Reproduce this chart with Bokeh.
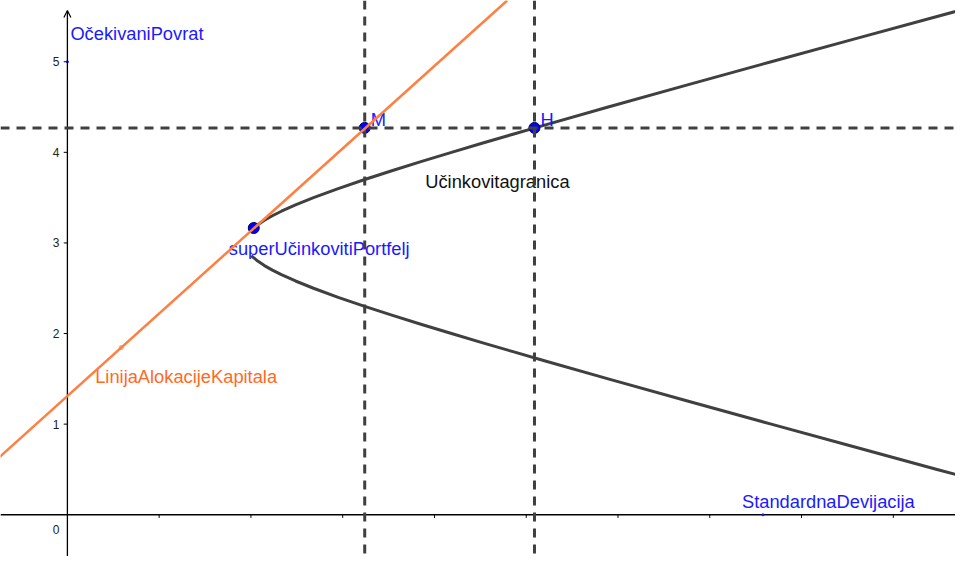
from bokeh.plotting import figure
from bokeh.models import Range1d, Span, Slope, Arrow, OpenHead
from bokeh.core.properties import value
from bokeh.embed import file_html
from bokeh.resources import INLINE

# ---------------- data ----------------
# Efficient frontier (hyperbola), upper branch: (std dev, expected return)
upper_sigma = [2.031, 2.074, 2.147, 2.234, 2.332, 2.486, 2.682, 2.951, 3.240, 3.544,
               3.861, 4.186, 4.518, 4.856, 5.095, 5.893, 6.777, 7.670, 8.571, 9.477, 9.841]
upper_mu    = [3.165, 3.20, 3.25, 3.30, 3.35, 3.42, 3.50, 3.60, 3.70, 3.80,
               3.90, 4.00, 4.10, 4.20, 4.27, 4.50, 4.75, 5.00, 5.25, 5.50, 5.60]
# lower branch
lower_sigma = [2.005, 2.015, 2.074, 2.147, 2.234, 2.332, 2.486, 2.682, 2.951, 3.240, 3.544,
               3.861, 4.186, 4.518, 4.856, 5.198, 5.893, 6.777, 7.670, 8.571, 9.477, 9.841]
lower_mu    = [2.86, 2.85, 2.80, 2.75, 2.70, 2.65, 2.58, 2.50, 2.40, 2.30, 2.20,
               2.10, 2.00, 1.90, 1.80, 1.70, 1.50, 1.25, 1.00, 0.75, 0.50, 0.40]

# Capital allocation line: intercept (risk-free rate) and slope
cal_intercept = 1.31
cal_slope = 0.911

# Named points
point_names = ["M", "H", "superUčinkovitiPortfelj"]
point_x = [3.24, 5.09, 2.031]
point_y = [4.27, 4.27, 3.165]

# Small helper points carrying labels
cal_label_point = (0.586, 1.845)
y_axis_point = (0.0, 5.0)
x_axis_point = (7.58, 0.0)
frontier_label_pos = (3.90, 3.68)

# Axis ticks
y_tick_values = [0, 1, 2, 3, 4, 5]
y_tick_labels = ["0", "1", "2", "3", "4", "5"]
x_tick_values = [1, 2, 3, 4, 5, 6, 7, 8, 9]

# ---------------- figure ----------------
FONT = value("Liberation Sans")
FS = "18.3px"
BLUE = "#1a1aff"
ORANGE = "#ff7f40"
ORANGE_TXT = "#ff6a1f"
DARK = "#404040"

X0, X1 = -0.729, 9.678
Y0, Y1 = -0.461, 5.676

p = figure(width=955, height=556, output_backend="svg", toolbar_location=None,
           x_range=Range1d(X0, X1), y_range=Range1d(Y0, Y1), min_border=0)
p.axis.visible = False
p.grid.visible = False
p.outline_line_color = None
p.background_fill_color = "white"

# axes
p.segment(x0=[X0], y0=[0], x1=[X1], y1=[0], line_color="black", line_width=1.3)
p.add_layout(Arrow(end=OpenHead(size=7, line_width=1.2, line_color="black"),
                   x_start=0, y_start=Y0, x_end=0, y_end=5.565,
                   line_color="black", line_width=1.3))
# y ticks
p.segment(x0=[0] * 5, y0=y_tick_values[1:], x1=[-0.04] * 5, y1=y_tick_values[1:],
          line_color="black", line_width=1)
# x ticks
p.segment(x0=x_tick_values, y0=[0] * len(x_tick_values), x1=x_tick_values,
          y1=[-0.035] * len(x_tick_values), line_color="black", line_width=1)
# y tick labels
p.text(x=[0] * 5, y=y_tick_values[1:], text=y_tick_labels[1:], text_font=FONT,
       text_font_size="12px", text_color="#222222", text_align="right",
       text_baseline="middle", x_offset=-8)
p.text(x=[0], y=[0], text=[y_tick_labels[0]], text_font=FONT,
       text_font_size="12px", text_color="#222222", text_align="right",
       text_baseline="middle", x_offset=-8, y_offset=15)

# dashed reference lines through M and H
for xv in point_x[:2]:
    p.add_layout(Span(location=xv, dimension="height", line_color=DARK,
                      line_width=3, line_dash="9 7"))
p.add_layout(Span(location=point_y[0], dimension="width", line_color=DARK,
                  line_width=3, line_dash="9 7"))

# capital allocation line
p.add_layout(Slope(gradient=cal_slope, y_intercept=cal_intercept,
                   line_color=ORANGE, line_width=2.5))

# efficient frontier
p.line(upper_sigma, upper_mu, line_color=DARK, line_width=3, line_join="round")
p.line(lower_sigma, lower_mu, line_color=DARK, line_width=3, line_join="round")

# small label points
p.scatter([cal_label_point[0]], [cal_label_point[1]], size=5, fill_color="#ffb08a",
          line_color=None)
p.scatter([y_axis_point[0], x_axis_point[0]], [y_axis_point[1], x_axis_point[1]],
          size=3, fill_color=BLUE, line_color=None)

# named points
p.scatter(point_x, point_y, size=11, fill_color="#0000ff", line_color="#000060",
          line_width=1)

# labels
p.text(x=point_x[:2], y=point_y[:2], text=point_names[:2], text_font=FONT,
       text_font_size=FS, text_color=BLUE, text_align="left",
       text_baseline="alphabetic", x_offset=6, y_offset=-8)
p.text(x=[point_x[2]], y=[point_y[2]], text=[point_names[2]], text_font=FONT,
       text_font_size=FS, text_color=BLUE, text_align="left",
       text_baseline="alphabetic", x_offset=-25, y_offset=21)
p.text(x=[frontier_label_pos[0]], y=[frontier_label_pos[1]], text=["Učinkovitagranica"],
       text_font=FONT, text_font_size=FS, text_color="#111111", text_align="left",
       text_baseline="alphabetic")
p.text(x=[cal_label_point[0]], y=[cal_label_point[1]], text=["LinijaAlokacijeKapitala"],
       text_font=FONT, text_font_size=FS, text_color=ORANGE_TXT, text_align="left",
       text_baseline="alphabetic", x_offset=-26, y_offset=29)
p.text(x=[y_axis_point[0]], y=[y_axis_point[1]], text=["OčekivaniPovrat"],
       text_font=FONT, text_font_size=FS, text_color=BLUE, text_align="left",
       text_baseline="alphabetic", x_offset=3, y_offset=-28)
p.text(x=[x_axis_point[0]], y=[x_axis_point[1]], text=["StandardnaDevijacija"],
       text_font=FONT, text_font_size=FS, text_color=BLUE, text_align="left",
       text_baseline="alphabetic", x_offset=-21, y_offset=-13)

open("out.html", "w").write(file_html(p, INLINE))
